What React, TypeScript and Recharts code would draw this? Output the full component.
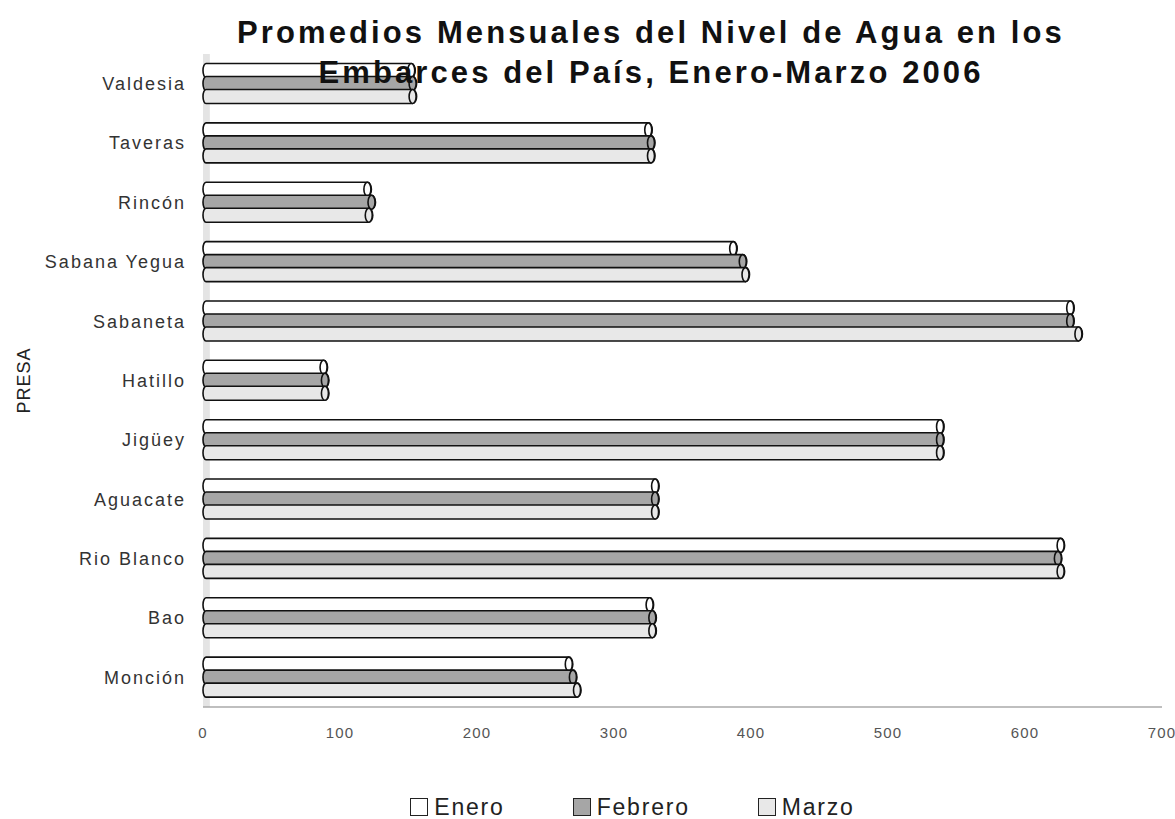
import { Bar, BarChart, Legend, ReferenceArea, XAxis, YAxis } from "recharts";

const presas = ["Valdesia", "Taveras", "Rincón", "Sabana Yegua", "Sabaneta", "Hatillo", "Jigüey", "Aguacate", "Rio Blanco", "Bao", "Monción"];
const enero = [152, 325, 120, 387, 633, 88, 538, 330, 626, 326, 267];
const febrero = [153, 327, 123, 394, 633, 89, 538, 330, 624, 328, 270];
const marzo = [153, 327, 121, 396, 639, 89, 538, 330, 626, 328, 273];
const xTicks = [0, 100, 200, 300, 400, 500, 600, 700];

const series = [
  { key: "enero", name: "Enero", fill: "#ffffff" },
  { key: "febrero", name: "Febrero", fill: "#a6a6a6" },
  { key: "marzo", name: "Marzo", fill: "#e8e8e8" },
];

const data = presas.map((presa, i) => ({ presa, enero: enero[i], febrero: febrero[i], marzo: marzo[i] }));

const font = "'Liberation Sans', Arial, sans-serif";

// tube-like bar: rounded left end, elliptical cap on the right
function Tube(props: any) {
  const { x, y, width, height, fill } = props;
  if (!width || width <= 0) return null;
  const r = height / 2;
  const cx = x + width;
  return (
    <g>
      <path
        d={`M${x + 3},${y} L${cx},${y} A4,${r} 0 0 1 ${cx},${y + height} L${x + 3},${y + height} A3,${r} 0 0 1 ${x + 3},${y} Z`}
        fill={fill}
        stroke="#111"
        strokeWidth={1.6}
      />
      <ellipse cx={cx} cy={y + r} rx={3.5} ry={r} fill={fill} stroke="#111" strokeWidth={1.6} />
    </g>
  );
}

function LegendContent() {
  return (
    <div style={{ display: "flex", justifyContent: "center", gap: 68, fontFamily: font, fontSize: 23, lineHeight: "26px", color: "#222", letterSpacing: 1.8, paddingLeft: 90 }}>
      {series.map((s) => (
        <div key={s.key} style={{ display: "flex", alignItems: "center" }}>
          <span style={{ display: "inline-block", width: 16, height: 16, border: "1.5px solid #222", background: s.fill, marginRight: 6 }} />
          <span>{s.name}</span>
        </div>
      ))}
    </div>
  );
}

export default function App() {
  return (
    <div style={{ position: "absolute", left: 0, top: 0, width: 1175, height: 819, background: "#fff" }}>
      <BarChart
        width={1175}
        height={819}
        data={data}
        layout="vertical"
        margin={{ top: 54, right: 13, bottom: 32, left: 0 }}
        barCategoryGap="16%"
        barGap={-1}
      >
        <ReferenceArea x1={0} x2={5} fill="#e4e4e4" fillOpacity={1} stroke="none" />
        <XAxis
          type="number"
          domain={[0, 700]}
          ticks={xTicks}
          height={40}
          tickLine={false}
          tickSize={0}
          tickMargin={20}
          axisLine={{ stroke: "#aaa", strokeWidth: 1.5 }}
          tick={{ fontSize: 15, fill: "#555", fontFamily: font, letterSpacing: 1.2 }}
        />
        <YAxis
          type="category"
          dataKey="presa"
          width={203}
          tickLine={false}
          tickSize={0}
          tickMargin={17}
          axisLine={false}
          tick={{ fontSize: 18, fill: "#333", fontFamily: font, letterSpacing: 2 }}
          label={{ value: "PRESA", angle: -90, position: "insideLeft", offset: 24, style: { fontSize: 18, fontFamily: font, fill: "#222", letterSpacing: 1, textAnchor: "middle" } }}
        />
        {series.map((s) => (
          <Bar key={s.key} dataKey={s.key} name={s.name} fill={s.fill} shape={<Tube />} isAnimationActive={false} />
        ))}
        <Legend verticalAlign="bottom" height={40} content={<LegendContent />} wrapperStyle={{ top: 794, left: 0, width: 1175 }} />
      </BarChart>
      <div
        style={{
          position: "absolute",
          left: 0,
          top: 13,
          width: 1302,
          textAlign: "center",
          fontFamily: font,
          fontWeight: "bold",
          fontSize: 31,
          lineHeight: "40px",
          letterSpacing: 3.1,
          color: "#111",
          pointerEvents: "none",
        }}
      >
        Promedios Mensuales del Nivel de Agua en los
        <br />
        Embarces del País, Enero-Marzo 2006
      </div>
    </div>
  );
}
